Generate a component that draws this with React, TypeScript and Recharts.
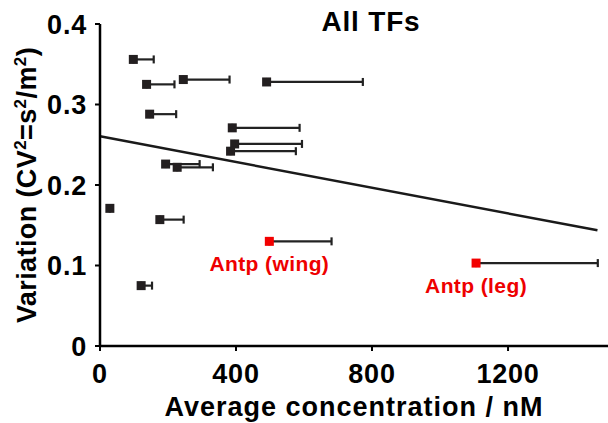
import {
  ErrorBar,
  LabelList,
  ReferenceLine,
  Scatter,
  ScatterChart,
  XAxis,
  YAxis,
} from "recharts";

// concentration (nM), CV^2, and the one-sided (upper) error in nM
const tfConc = [98, 137, 245, 490, 146, 389, 396, 384, 193, 227, 29, 176, 121];
const tfVar = [0.356, 0.325, 0.331, 0.328, 0.288, 0.271, 0.251, 0.242, 0.226, 0.222, 0.171, 0.157, 0.075];
const tfErr = [60, 82, 136, 283, 78, 198, 198, 192, 100, 105, 0, 70, 32];

const antpNames = ["Antp (wing)", "Antp (leg)"];
const antpConc = [498, 1106];
const antpVar = [0.13, 0.103];
const antpErr = [183, 358];

const fitLine = [
  { x: 0, y: 0.2605 },
  { x: 1463, y: 0.1437 },
];

const xTicks = [0, 400, 800, 1200];
const yTicks = [0, 0.1, 0.2, 0.3, 0.4];

const tfData = tfConc.map((x, i) => ({ x, y: tfVar[i], err: [0, tfErr[i]] }));
const antpData = antpConc.map((x, i) => ({
  x,
  y: antpVar[i],
  err: [0, antpErr[i]],
  name: antpNames[i],
}));

const font = "'Liberation Sans', Arial, sans-serif";
const tickStyle = {
  fontSize: 27,
  fontWeight: 700,
  fill: "#000",
  fontFamily: font,
  letterSpacing: 0.8,
};

const square = (colour: string) => (p: any) => (
  <rect x={p.cx - 4.5} y={p.cy - 4.5} width={9} height={9} fill={colour} />
);

function AntpLabel(p: any) {
  return (
    <text
      x={p.x + p.width / 2}
      y={p.y + p.height / 2 + 30}
      textAnchor="middle"
      fill="#ee0000"
      fontSize={21}
      fontWeight={700}
      fontFamily={font}
      letterSpacing={0.4}
    >
      {p.value}
    </text>
  );
}

function YTitle() {
  return (
    <text
      transform="translate(36,185) rotate(-90)"
      textAnchor="middle"
      fontSize={27}
      fontWeight={700}
      fontFamily={font}
      letterSpacing={0.4}
      fill="#000"
    >
      Variation (CV
      <tspan fontSize={17} dy={-10}>2</tspan>
      <tspan dy={10}>=s</tspan>
      <tspan fontSize={17} dy={-10}>2</tspan>
      <tspan dy={10}>/m</tspan>
      <tspan fontSize={17} dy={-10}>2</tspan>
      <tspan dy={10}>)</tspan>
    </text>
  );
}

export default function App() {
  return (
    <div style={{ position: "absolute", left: 0, top: 0, background: "#fff" }}>
      <ScatterChart
        width={608}
        height={423}
        margin={{ top: 24, right: 0, left: 0, bottom: 0 }}
      >
        <XAxis
          type="number"
          dataKey="x"
          domain={[0, 1494]}
          ticks={xTicks}
          allowDataOverflow
          height={77}
          tickSize={5}
          tickMargin={13}
          tick={tickStyle}
          axisLine={{ stroke: "#000", strokeWidth: 2.5 }}
          tickLine={{ stroke: "#000", strokeWidth: 2 }}
          label={{
            value: "Average concentration / nM",
            position: "insideBottom",
            offset: 7,
            fill: "#000",
            fontSize: 27,
            fontWeight: 700,
            fontFamily: font,
            letterSpacing: 1,
          }}
        />
        <YAxis
          type="number"
          dataKey="y"
          domain={[0, 0.4]}
          ticks={yTicks}
          width={100}
          tickSize={5}
          tickMargin={8}
          tick={tickStyle}
          axisLine={{ stroke: "#000", strokeWidth: 2.5 }}
          tickLine={{ stroke: "#000", strokeWidth: 2 }}
        />
        <ReferenceLine
          segment={fitLine}
          stroke="#1a1a1a"
          strokeWidth={2.5}
          ifOverflow="visible"
        />
        <Scatter data={tfData} shape={square("#231f20")} isAnimationActive={false}>
          <ErrorBar dataKey="err" direction="x" width={4} stroke="#222" strokeWidth={2.2} />
        </Scatter>
        <Scatter data={antpData} shape={square("#f20000")} isAnimationActive={false}>
          <ErrorBar dataKey="err" direction="x" width={4} stroke="#222" strokeWidth={2.2} />
          <LabelList dataKey="name" content={AntpLabel} />
        </Scatter>
        <text
          x={371}
          y={31}
          textAnchor="middle"
          fontSize={28}
          fontWeight={700}
          fontFamily={font}
          letterSpacing={0.8}
          fill="#000"
        >
          All TFs
        </text>
        <YTitle />
      </ScatterChart>
    </div>
  );
}
